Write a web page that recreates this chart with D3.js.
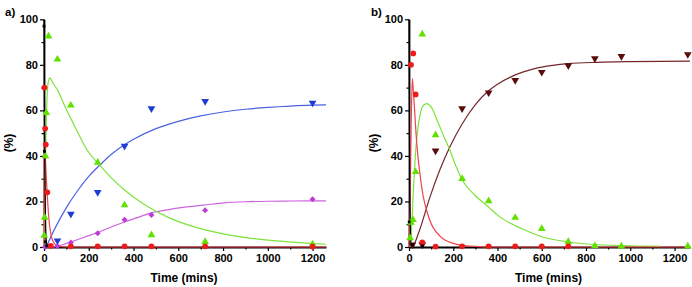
<!DOCTYPE html>
<html>
<head>
<meta charset="utf-8">
<script src="https://cdn.jsdelivr.net/npm/d3@7"></script>
<style>
  html, body { margin: 0; padding: 0; background: #fff; }
  #container { width: 692px; height: 287px; }
  text { font-family: "Liberation Sans", Arial, sans-serif; font-weight: bold; }
</style>
</head>
<body>
<div id="container"></div>
<script>
// ---- data: [time (mins), %] ----
// panel a
const aStartPts  = [[0, 97], [2, 42], [7, 2.3], [12, 0.5]];
const aStartFit  = [[0, 100], [2, 62], [4, 35], [6, 17], [8, 7], [11, 2], [15, 0.3], [25, 0]];
const aRedPts    = [[2, 70], [5, 52], [8, 45], [15, 24], [30, 0.5], [120, 0.3], [240, 0.3], [360, 0.3], [480, 0.3], [720, 0.3], [1200, 0.2]];
const aRedFit    = [[0, 0], [1, 40], [2, 45], [5, 41], [10, 31], [15, 22], [20, 14.5], [30, 6], [40, 2.5], [60, 0.5], [100, 0], [1260, 0]];
const aGreenPts  = [[1, 5], [3, 13], [6, 40], [10, 59], [20, 92.6], [60, 82.4], [120, 62.2], [240, 37.1], [360, 18.4], [480, 5.3], [720, 2.3], [1200, 1.2]];
const aGreenFit  = [[0, 0], [5, 30], [10, 55], [15, 68], [20, 73], [27, 74.3], [40, 72], [61, 68.9], [90, 62.5], [116, 57.2], [150, 50.5], [193, 42.5], [249, 36], [300, 30.5], [360, 25], [420, 20.5], [480, 16.8], [560, 12.8], [640, 9.8], [720, 7.5], [800, 5.8], [910, 4], [1000, 3], [1100, 2.2], [1200, 1.5], [1260, 1.2]];
const aBluePts   = [[60, 2.8], [120, 14.5], [240, 24], [360, 44.4], [480, 60.8], [720, 64], [1200, 63.3]];
const aBlueFit   = [[10, 0], [50, 8.4], [100, 17.3], [150, 24.7], [200, 31], [250, 36], [300, 40.6], [400, 47.3], [500, 52], [600, 55.2], [700, 57.6], [800, 59.3], [900, 60.5], [1000, 61.3], [1100, 61.9], [1200, 62.3], [1260, 62.4]];
const aPurplePts = [[5, 0], [60, 0.3], [120, 2], [240, 6], [360, 12], [480, 14], [720, 16.1], [1200, 21]];
const aPurpleFit = [[0, 0], [40, 0], [60, 0.4], [90, 1.2], [120, 2.2], [180, 4.3], [249, 6.7], [300, 8.8], [360, 11], [420, 13], [472, 14.8], [550, 16.3], [620, 17.4], [714, 18.4], [806, 19.4], [910, 19.9], [1000, 20.1], [1100, 20.2], [1260, 20.3]];

// panel b
const bStartPts  = [[1, 11], [15, 1], [60, 0.5]];
const bStartFit  = [[0, 100], [2, 50], [4, 20], [6, 8], [10, 1], [20, 0]];
const bRedPts    = [[9, 80], [19, 85], [30, 67], [60, 2], [120, 0.2], [240, 0.3], [360, 0.3], [480, 0.3], [600, 0.3], [720, 0.3]];
const bRedFit    = [[0, 0], [5, 20], [10, 55], [15, 74], [20, 68], [35, 45.5], [57, 26.5], [95, 11.5], [140, 4.8], [200, 1.6], [275, 0.4], [400, 0], [1270, 0]];
const bGreenPts  = [[5, 4], [9, 10.7], [18, 12], [30, 33], [60, 93.4], [120, 49.2], [240, 30], [360, 20.2], [480, 12.9], [600, 8], [720, 2.3], [840, 0.5], [960, 0.3], [1260, 0.3]];
const bGreenFit  = [[5, 0], [10, 5], [20, 25], [30, 42], [40, 52], [50, 58], [60, 61.5], [80, 63], [100, 61.5], [130, 55], [160, 48], [185, 42.5], [210, 36], [238, 30], [300, 22.5], [358, 17.7], [400, 14], [456, 10.5], [500, 8.5], [600, 4.5], [720, 2.2], [840, 1.1], [960, 0.6], [1140, 0.3]];
const bMaroonPts = [[15, 1], [60, 1], [120, 42.3], [240, 60.8], [360, 67.8], [480, 73.2], [600, 76.8], [720, 79.7], [840, 82.8], [960, 83.8], [1260, 84.6]];
const bMaroonFit = [[20, 0], [50, 8], [95, 22], [140, 34], [185, 44], [240, 54], [300, 62.5], [358, 68.5], [400, 71.5], [456, 74.5], [520, 77], [600, 79], [720, 80.5], [850, 81.1], [1000, 81.4], [1270, 81.6]];

const xMajor = [0, 200, 400, 600, 800, 1000, 1200];
const xMinor = [100, 300, 500, 700, 900, 1100];
const yMajor = [0, 20, 40, 60, 80, 100];
const yMinor = [10, 30, 50, 70, 90];

const col = {
  black:  {line: "#000000", mark: "#000000"},
  red:    {line: "#f2424e", mark: "#ee1b1b"},
  green:  {line: "#7ce23c", mark: "#62e000"},
  blue:   {line: "#4a62e0", mark: "#1f3cd6"},
  purple: {line: "#cc64dc", mark: "#bf3ad6"},
  maroon: {line: "#74282a", mark: "#5a0c0c"}
};

const svg = d3.select("#container").append("svg")
  .attr("width", 692).attr("height", 287);

const y = d3.scaleLinear().domain([0, 100]).range([247, 19.3]);

function panel(x0, x1, xMax, letter, letterX, yLabX, series) {
  const x = d3.scaleLinear().domain([0, xMax]).range([x0, x1]);
  const g = svg.append("g");

  // minor ticks
  g.append("g").attr("transform", "translate(0,247)")
    .call(d3.axisBottom(x).tickValues(xMinor).tickSize(2.5).tickSizeOuter(0).tickFormat(""))
    .call(s => s.select(".domain").remove());
  g.append("g").attr("transform", `translate(${x0},0)`)
    .call(d3.axisLeft(y).tickValues(yMinor).tickSize(2.5).tickSizeOuter(0).tickFormat(""))
    .call(s => s.select(".domain").remove());

  const xa = g.append("g").attr("transform", "translate(0,247)")
    .call(d3.axisBottom(x).tickValues(xMajor).tickSize(4).tickSizeOuter(0).tickPadding(3).tickFormat(d3.format("d")));
  xa.selectAll("text").attr("font-size", "11px").attr("fill", "#000");
  const ya = g.append("g").attr("transform", `translate(${x0},0)`)
    .call(d3.axisLeft(y).tickValues(yMajor).tickSize(4).tickSizeOuter(0).tickPadding(2).tickFormat(d3.format("d")));
  ya.selectAll("text").attr("font-size", "11px").attr("fill", "#000");
  g.selectAll(".domain").attr("stroke-width", 1.8);
  g.selectAll(".tick line").attr("stroke-width", 1.2);

  g.append("text").attr("x", letterX).attr("y", 16).attr("font-size", "11.5px").text(letter);
  g.append("text")
    .attr("transform", `translate(${yLabX},143) rotate(-90)`)
    .attr("text-anchor", "middle").attr("font-size", "12px").text("(%)");
  g.append("text").attr("x", (x0 + x1) / 2 - 1).attr("y", 282)
    .attr("text-anchor", "middle").attr("font-size", "12px").text("Time (mins)");

  const line = d3.line().x(d => x(d[0])).y(d => y(d[1])).curve(d3.curveMonotoneX);
  series.forEach(s => {
    g.append("path").datum(s.fit)
      .attr("fill", "none").attr("stroke", s.c.line).attr("stroke-width", 1.2)
      .attr("d", line);
  });
  series.forEach(s => {
    const sym = d3.symbol().type(s.shape).size(s.size);
    g.append("g").selectAll("path").data(s.pts).join("path")
      .attr("d", sym)
      .attr("transform", d => `translate(${x(d[0])},${y(d[1])}) rotate(${s.rot || 0})`)
      .attr("fill", s.c.mark);
  });
}

panel(44, 326, 1260, "a)", 5, 13, [
  {fit: aPurpleFit, pts: aPurplePts, c: col.purple, shape: d3.symbolSquare, size: 18, rot: 45},
  {fit: aBlueFit, pts: aBluePts, c: col.blue, shape: d3.symbolTriangle, size: 26, rot: 180},
  {fit: aGreenFit, pts: aGreenPts, c: col.green, shape: d3.symbolTriangle, size: 26},
  {fit: aRedFit, pts: aRedPts, c: col.red, shape: d3.symbolCircle, size: 26},
  {fit: aStartFit, pts: aStartPts, c: col.black, shape: d3.symbolSquare, size: 8}
]);

panel(409, 690, 1270, "b)", 371, 378, [
  {fit: bMaroonFit, pts: bMaroonPts, c: col.maroon, shape: d3.symbolTriangle, size: 26, rot: 180},
  {fit: bGreenFit, pts: bGreenPts, c: col.green, shape: d3.symbolTriangle, size: 26},
  {fit: bRedFit, pts: bRedPts, c: col.red, shape: d3.symbolCircle, size: 26},
  {fit: bStartFit, pts: bStartPts, c: col.black, shape: d3.symbolSquare, size: 8}
]);
</script>
</body>
</html>
